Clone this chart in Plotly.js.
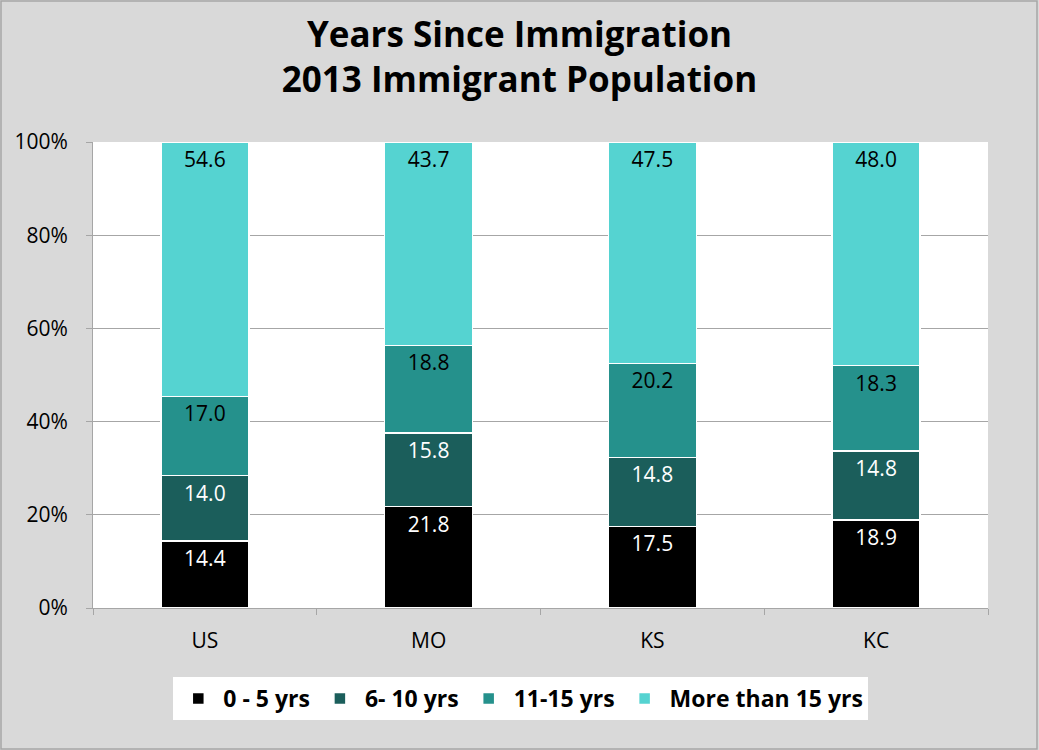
<!DOCTYPE html>
<html><head><meta charset="utf-8">
<script src="https://cdn.plot.ly/plotly-3.0.1.min.js"></script>
<style>html,body{margin:0;padding:0;background:#d9d9d9;}#chart{width:1039px;height:750px;}</style>
</head><body><div id="chart"></div>
<script>
const categories = ["US", "MO", "KS", "KC"];
const seriesNames = ["0 - 5 yrs", "6- 10 yrs", "11-15 yrs", "More than 15 yrs"];
const yrs0to5 = [14.4, 21.8, 17.5, 18.9];
const yrs6to10 = [14.0, 15.8, 14.8, 14.8];
const yrs11to15 = [17.0, 18.8, 20.2, 18.3];
const yrsOver15 = [54.6, 43.7, 47.5, 48.0];
const yTickVals = [0, 20, 40, 60, 80, 100];
const yTickText = ["0%", "20%", "40%", "60%", "80%", "100%"];

const colors = ["#000000", "#1b5e5b", "#25918c", "#55d3d1"];
const textColors = ["#ffffff", "#ffffff", "#000000", "#000000"];
const series = [yrs0to5, yrs6to10, yrs11to15, yrsOver15];
const FONT = "Open Sans, Noto Sans, sans-serif";

const traces = series.map((vals, i) => ({
  type: "bar",
  name: seriesNames[i],
  x: categories,
  y: vals,
  text: vals.map(v => v.toFixed(1)),
  textposition: "inside",
  insidetextanchor: "end",
  textangle: 0,
  constraintext: "none",
  textfont: {family: FONT, size: 21, color: textColors[i]},
  marker: {color: colors[i], line: {color: "#ffffff", width: 1.5}},
  hoverinfo: "skip"
}));

const layout = {
  width: 1039, height: 750,
  paper_bgcolor: "#d9d9d9",
  plot_bgcolor: "#ffffff",
  barmode: "stack",
  barnorm: "percent",
  bargap: 0.607,
  margin: {l: 93, r: 51, t: 142, b: 142},
  title: {
    text: "<b>Years Since Immigration<br>2013 Immigrant Population</b>",
    font: {family: FONT, size: 35, color: "#000000"},
    x: 0.5, xanchor: "center", y: 0.938, yanchor: "middle"
  },
  xaxis: {
    type: "category",
    tickfont: {family: FONT, size: 21, color: "#000000"},
    showline: true, linecolor: "#a6a6a6", linewidth: 1,
    ticks: "outside", tickson: "boundaries", ticklen: 6, tickcolor: "#a6a6a6",
    ticklabelstandoff: 14,
    showgrid: false
  },
  yaxis: {
    range: [0, 100],
    tickvals: yTickVals, ticktext: yTickText,
    tickfont: {family: FONT, size: 21, color: "#000000"},
    showline: true, linecolor: "#a6a6a6", linewidth: 1,
    ticks: "outside", ticklen: 6, tickcolor: "#a6a6a6",
    ticklabelstandoff: 14,
    showgrid: true, gridcolor: "#a6a6a6", gridwidth: 1,
    zeroline: false
  },
  showlegend: true,
  legend: {
    orientation: "h",
    x: 0.478, xanchor: "center",
    y: -0.148, yanchor: "top",
    bgcolor: "#ffffff",
    font: {family: FONT, size: 23, color: "#000000", weight: "bold"},
    traceorder: "normal",
    itemwidth: 40
  },
  shapes: [{
    type: "rect", xref: "paper", yref: "paper",
    x0: -92/895, x1: 1 + 49/895, y0: -141/466, y1: 1 + 141/466,
    line: {color: "#a6a6a6", width: 1.5}, fillcolor: "rgba(0,0,0,0)"
  }]
};

Plotly.newPlot("chart", traces, layout, {displayModeBar: false, staticPlot: true});
</script></body></html>
